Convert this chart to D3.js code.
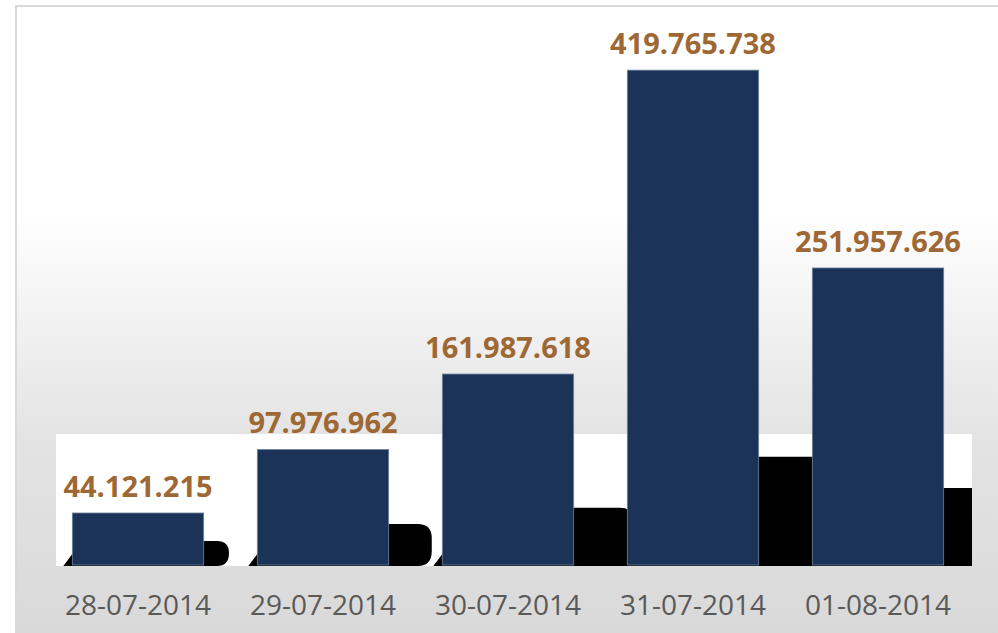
<!DOCTYPE html>
<meta charset="utf-8">
<html>
<head>
<style>
  body { margin: 0; background: #fff; }
  svg { display: block; }
</style>
</head>
<body>
<div id="chart"></div>
<script src="https://d3js.org/d3.v7.min.js"></script>
<script>

  // Data
  var dates = ["28-07-2014", "29-07-2014", "30-07-2014", "31-07-2014", "01-08-2014"];
  var values = [44121215, 97976962, 161987618, 419765738, 251957626];
  var labels = ["44.121.215", "97.976.962", "161.987.618", "419.765.738", "251.957.626"];

  var W = 998, H = 633;
  var base = 565;

  var svg = d3.select("#chart")
    .append("svg")
      .attr("width", W)
      .attr("height", H);

  var defs = svg.append("defs");

  // background gradient of the chart area
  var grad = defs.append("linearGradient")
      .attr("id", "bg")
      .attr("x1", 0).attr("y1", 0).attr("x2", 0).attr("y2", 1);
  grad.append("stop").attr("offset", "0%").attr("stop-color", "#ffffff");
  grad.append("stop").attr("offset", "33%").attr("stop-color", "#ffffff");
  grad.append("stop").attr("offset", "68%").attr("stop-color", "#e4e4e4");
  grad.append("stop").attr("offset", "100%").attr("stop-color", "#d9d9d9");

  svg.append("rect")
    .attr("x", 16).attr("y", 6)
    .attr("width", W - 16).attr("height", H - 6)
    .attr("fill", "url(#bg)");

  // frame (top and left edges)
  svg.append("line")
    .attr("x1", 15).attr("x2", W).attr("y1", 6).attr("y2", 6)
    .attr("stroke", "#d9d9d9").attr("stroke-width", 2);
  svg.append("line")
    .attr("x1", 16).attr("x2", 16).attr("y1", 6).attr("y2", H)
    .attr("stroke", "#d9d9d9").attr("stroke-width", 2);

  // Scales
  var x = d3.scaleBand()
    .domain(dates)
    .range([45.5, 970.5])
    .paddingInner(0.29)
    .paddingOuter(0.145);

  var y = d3.scaleLinear()
    .domain([0, 450000000])
    .range([base, 34.5]);

  // white floor panel where the shadows fall
  defs.append("clipPath").attr("id", "floor")
    .append("rect")
      .attr("x", 56).attr("y", 434)
      .attr("width", 916).attr("height", base - 434 + 1);

  svg.append("rect")
    .attr("x", 56).attr("y", 434)
    .attr("width", 916).attr("height", base - 434 + 1)
    .attr("fill", "#ffffff");

  // black cast shadows (size follows bar height)
  var shadowSize = d3.scalePow().exponent(2 / 3).domain([0, 1]).range([0, 1.73]);

  var shadows = svg.append("g").attr("clip-path", "url(#floor)");
  shadows.selectAll("path.shadow")
    .data(values)
    .enter()
    .append("path")
      .attr("class", "shadow")
      .attr("fill", "#000")
      .attr("d", function(d, i) {
        var x0 = x(dates[i]), x1 = x0 + x.bandwidth();
        var hs = shadowSize(base - y(d));
        var ws = hs * 1.05;
        var r = Math.min(hs / 2, 14);
        var p = d3.path();
        p.moveTo(x0 - 9, base + 1);
        p.lineTo(x0, base - 11);
        p.lineTo(x0 + 10, base - hs * 0.9);
        p.lineTo(x1, base - hs);
        p.lineTo(x1 + ws - r, base - hs);
        p.quadraticCurveTo(x1 + ws, base - hs, x1 + ws, base - hs + r);
        p.lineTo(x1 + ws, base - r);
        p.quadraticCurveTo(x1 + ws, base + 1, x1 + ws - r, base + 1);
        p.closePath();
        return p.toString();
      });

  // Bars
  svg.selectAll("rect.bar")
    .data(values)
    .enter()
    .append("rect")
      .attr("class", "bar")
      .attr("x", function(d, i) { return x(dates[i]); })
      .attr("y", function(d) { return y(d); })
      .attr("width", x.bandwidth())
      .attr("height", function(d) { return base - y(d); })
      .attr("fill", "#1a3357")
      .attr("stroke", "#6f83a0")
      .attr("stroke-width", 0.8);

  // Value labels
  svg.selectAll("text.value")
    .data(values)
    .enter()
    .append("text")
      .attr("class", "value")
      .attr("x", function(d, i) { return x(dates[i]) + x.bandwidth() / 2; })
      .attr("y", function(d) { return y(d) - 16; })
      .attr("text-anchor", "middle")
      .style("font-family", "'Open Sans', sans-serif")
      .style("font-weight", "bold")
      .style("font-size", "29px")
      .style("fill", "#9e6834")
      .text(function(d, i) { return labels[i]; });

  // Category axis
  var xAxis = svg.append("g")
    .attr("transform", "translate(0," + base + ")")
    .call(d3.axisBottom(x).tickSize(0).tickPadding(0));
  xAxis.select(".domain").remove();
  xAxis.selectAll("text")
    .attr("dy", null)
    .attr("y", 50)
    .style("font-family", "'Open Sans', sans-serif")
    .style("font-size", "28px")
    .style("fill", "#595959");

</script>
</body>
</html>
